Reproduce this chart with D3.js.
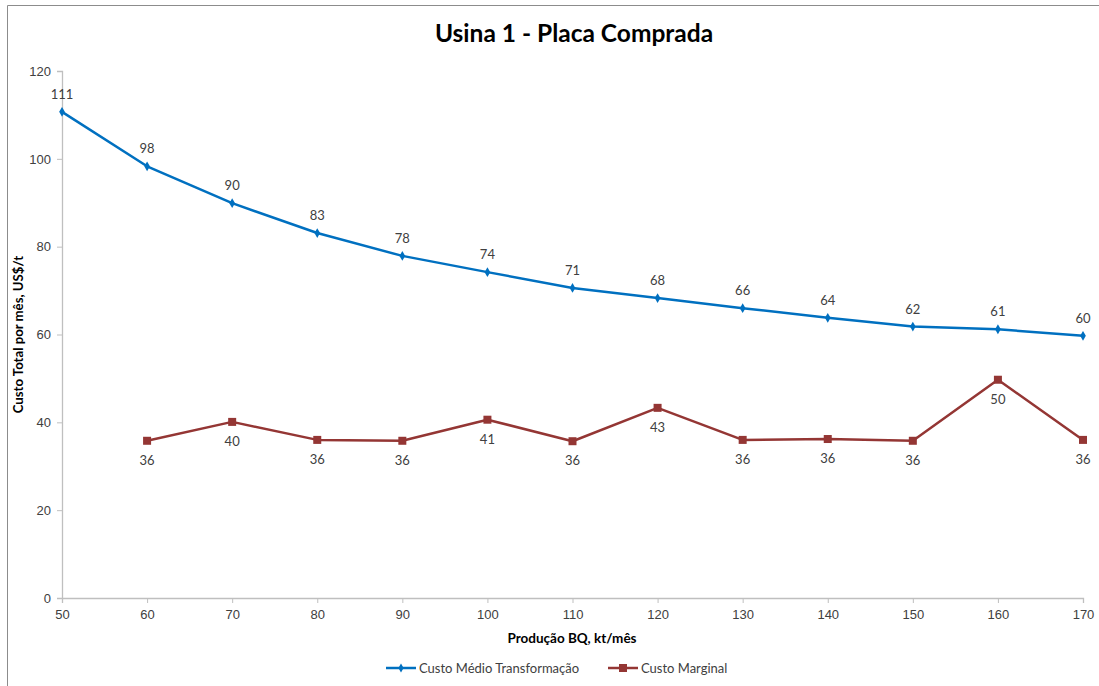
<!DOCTYPE html>
<html>
<head>
<meta charset="utf-8">
<script src="https://cdn.jsdelivr.net/npm/d3@7/dist/d3.min.js"></script>
<style>
  html, body { margin: 0; padding: 0; background: #fff; }
  svg { display: block; font-family: Lato, "Open Sans", "Liberation Sans", sans-serif; }
</style>
</head>
<body>
<svg id="chart" width="1099" height="686"></svg>
<script>
// Production levels (kt/month)
const producao = [50, 60, 70, 80, 90, 100, 110, 120, 130, 140, 150, 160, 170];
// Average transformation cost (US$/t)
const custoMedio = [110.7, 98.3, 89.9, 83.1, 77.9, 74.2, 70.6, 68.3, 66.0, 63.8, 61.8, 61.2, 59.7];
// Marginal cost (US$/t), starting at 60 kt
const producaoMarginal = [60, 70, 80, 90, 100, 110, 120, 130, 140, 150, 160, 170];
const custoMarginal = [35.8, 40.1, 36.0, 35.8, 40.6, 35.7, 43.3, 36.0, 36.2, 35.8, 49.7, 36.0];
const yTicks = [0, 20, 40, 60, 80, 100, 120];

const svg = d3.select("#chart");
const W = 1099, H = 686;
const blue = "#0070C0", red = "#943634";
const plot = { left: 62, right: 1083, top: 71, bottom: 598 };

// chart frame (top and left edges)
svg.append("path")
  .attr("d", `M7.5,${H} V5.5 H${W}`)
  .attr("fill", "none").attr("stroke", "#8c8c8c").attr("stroke-width", 1);

const x = d3.scaleLinear().domain([50, 170]).range([plot.left, plot.right]);
const y = d3.scaleLinear().domain([0, 120]).range([plot.bottom, plot.top]);

// axes
const xAxis = d3.axisBottom(x).tickValues(producao).tickSize(5).tickPadding(4);
const gx = svg.append("g").attr("transform", `translate(0,${plot.bottom})`).call(xAxis);
const yAxis = d3.axisLeft(y).tickValues(yTicks).tickSize(5).tickPadding(6);
const gy = svg.append("g").attr("transform", `translate(${plot.left},0)`).call(yAxis);
[gx, gy].forEach(g => {
  g.select(".domain").attr("stroke", "#bfbfbf").attr("stroke-width", 1.3);
  g.selectAll(".tick line").attr("stroke", "#bfbfbf");
  g.selectAll(".tick text").attr("fill", "#404040").style("font-size", "13px");
});
gx.selectAll(".tick text").attr("dy", "0.95em");

// title
svg.append("text").attr("x", 574).attr("y", 42)
  .attr("text-anchor", "middle").style("font-size", "24.5px").style("font-weight", "bold")
  .attr("fill", "#000").text("Usina 1 - Placa Comprada");

// axis titles
svg.append("text").attr("x", 572).attr("y", 643)
  .attr("text-anchor", "middle").style("font-size", "13.5px").style("font-weight", "bold")
  .attr("fill", "#000").text("Produção BQ, kt/mês");
svg.append("text").attr("transform", `translate(23,${(plot.top + plot.bottom) / 2}) rotate(-90)`)
  .attr("text-anchor", "middle").style("font-size", "13.2px").style("font-weight", "bold")
  .attr("fill", "#000").text("Custo Total por mês, US$/t");

const line = d3.line().x(d => x(d[0])).y(d => y(d[1]));
const mediaPts = producao.map((p, i) => [p, custoMedio[i]]);
const margPts = producaoMarginal.map((p, i) => [p, custoMarginal[i]]);

// average cost series
svg.append("path").datum(mediaPts).attr("d", line)
  .attr("fill", "none").attr("stroke", blue).attr("stroke-width", 2.5).attr("stroke-linejoin", "round");
svg.append("g").selectAll("path").data(mediaPts).join("path")
  .attr("d", d3.symbol(d3.symbolDiamond, 28))
  .attr("transform", d => `translate(${x(d[0])},${y(d[1])})`)
  .attr("fill", blue);
svg.append("g").selectAll("text").data(mediaPts).join("text")
  .attr("x", d => x(d[0])).attr("y", d => y(d[1]) - 13)
  .attr("text-anchor", "middle").style("font-size", "13px").attr("fill", "#404040")
  .text(d => Math.round(d[1]));

// marginal cost series
svg.append("path").datum(margPts).attr("d", line)
  .attr("fill", "none").attr("stroke", red).attr("stroke-width", 2.5).attr("stroke-linejoin", "round");
svg.append("g").selectAll("rect").data(margPts).join("rect")
  .attr("x", d => x(d[0]) - 4).attr("y", d => y(d[1]) - 4)
  .attr("width", 8).attr("height", 8).attr("fill", red);
svg.append("g").selectAll("text").data(margPts).join("text")
  .attr("x", d => x(d[0])).attr("y", d => y(d[1]) + 24)
  .attr("text-anchor", "middle").style("font-size", "13px").attr("fill", "#404040")
  .text(d => Math.round(d[1]));

// legend
const legend = [
  { name: "Custo Médio Transformação", color: blue, marker: "diamond", x: 386 },
  { name: "Custo Marginal", color: red, marker: "square", x: 608 }
];
const lg = svg.append("g").selectAll("g").data(legend).join("g")
  .attr("transform", d => `translate(${d.x},668)`);
lg.append("line").attr("x1", 0).attr("x2", 30).attr("stroke", d => d.color).attr("stroke-width", 2.5);
lg.filter(d => d.marker === "diamond").append("path")
  .attr("d", d3.symbol(d3.symbolDiamond, 24)).attr("transform", "translate(15,0)").attr("fill", d => d.color);
lg.filter(d => d.marker === "square").append("rect")
  .attr("x", 11).attr("y", -4).attr("width", 8).attr("height", 8).attr("fill", d => d.color);
lg.append("text").attr("x", 33).attr("dy", "0.35em")
  .style("font-size", "13px").attr("fill", "#404040").text(d => d.name);
</script>
</body>
</html>
